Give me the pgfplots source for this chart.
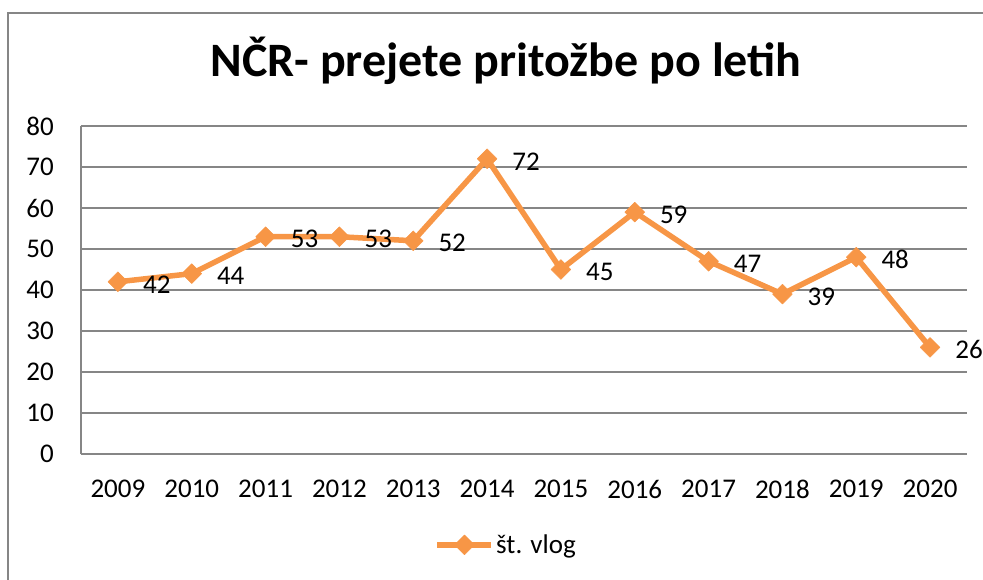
\documentclass[border=0pt]{standalone}
\usepackage{fontspec}
\setmainfont{Carlito}
\usepackage{pgfplots}
\pgfplotsset{compat=1.18}
\definecolor{lineor}{RGB}{247,150,70}
\definecolor{gridg}{RGB}{134,134,134}

\begin{document}
\begin{tikzpicture}[x=1pt,y=1pt]
  % picture frame, 1 unit = 1 px of the reference
  \path[use as bounding box] (-81,-125) rectangle (902,454);
  \clip (-81,-125) rectangle (902,454);
  \draw[gridg, line width=1.5pt] (-73,-200) -- (-73,441) -- (1000,441);
  \node[anchor=base, font=\fontsize{48}{55}\selectfont\bfseries] at (425,377)
    {NČR- prejete pritožbe po letih};

  \begin{axis}[
      scale only axis,
      width=886pt, height=328pt,
      xmin=-0.5, xmax=11.5,
      ymin=0, ymax=80,
      xtick={0,...,11},
      xticklabels={2009,2010,2011,2012,2013,2014,2015,2016,2017,2018,2019,2020},
      ytick={0,10,...,80},
      axis x line*=bottom, axis y line*=left,
      axis line style={gridg, line width=1.3pt, -},
      ymajorgrids,
      major grid style={gridg, line width=1.3pt},
      major tick length=0pt,
      /pgf/number format/assume math mode=true,
      tick label style={font=\fontsize{27}{32}\selectfont, inner sep=0pt},
      yticklabel style={anchor=east, xshift=-27pt},
      xticklabel style={anchor=north, yshift=-26pt},
      clip=false,
      nodes near coords,
      every node near coord/.append style={
        font=\fontsize{27}{32}\selectfont, anchor=west, inner sep=0pt,
        xshift=25pt, yshift=-2.5pt, text=black,
        /pgf/number format/assume math mode=true},
      legend style={at={(rel axis cs:0.48,-0.277)}, anchor=center,
        draw=none, fill=none, inner sep=0pt,
        font=\fontsize{27}{32}\selectfont,
        nodes={inner sep=2pt}},
      legend image code/.code={
        \draw[#1, mark repeat=2, mark phase=2]
          plot coordinates {(0pt,0pt) (27pt,0pt) (54pt,0pt)};},
    ]
    \addplot[lineor, line width=5.5pt, line join=round,
      mark=square*, mark size=7pt,
      mark options={rotate=45, line width=0.5pt, fill=lineor, draw=lineor}]
      coordinates {
        (0,42) (1,44) (2,53) (3,53) (4,52) (5,72)
        (6,45) (7,59) (8,47) (9,39) (10,48) (11,26)
      };
    \addlegendentry{št. vlog}
  \end{axis}
\end{tikzpicture}
\end{document}
